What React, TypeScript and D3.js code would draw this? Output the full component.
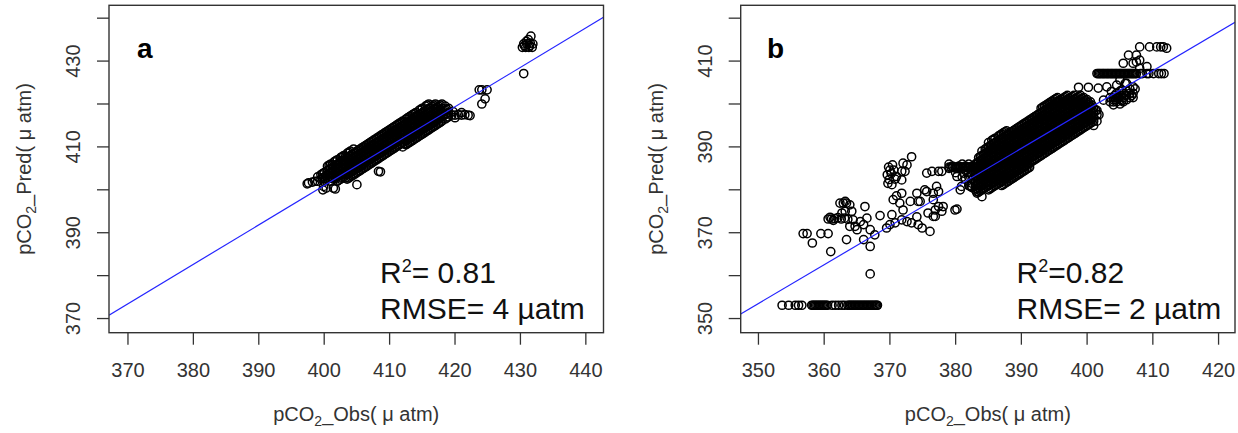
import React from "react";
import * as d3 from "d3";

// ---------- Panel a data (pCO2 obs, pred) ----------
// dense core: each row = [obs, pred, pred, ...]
const coreA: number[][] = [
  [399, 402, 403],
  [399.5, 402.5, 403.5],
  [400, 402, 403, 404],
  [400.5, 402.5, 403.5, 404.5, 405.5],
  [401, 402, 403, 404, 405, 406],
  [401.5, 402.5, 403.5, 404.5, 405.5, 406.5],
  [402, 402, 403, 404, 405, 406, 407],
  [402.5, 402.5, 403.5, 404.5, 405.5, 406.5, 407.5],
  [403, 403, 404, 405, 406, 407, 408],
  [403.5, 402.5, 403.5, 404.5, 405.5, 406.5, 407.5, 408.5],
  [404, 403, 404, 405, 406, 407, 408, 409],
  [404.5, 403.5, 404.5, 405.5, 406.5, 407.5, 408.5, 409.5],
  [405, 404, 405, 406, 407, 408, 409],
  [405.5, 404.5, 405.5, 406.5, 407.5, 408.5, 409.5],
  [406, 405, 406, 407, 408, 409, 410],
  [406.5, 405.5, 406.5, 407.5, 408.5, 409.5, 410.5],
  [407, 406, 407, 408, 409, 410, 411],
  [407.5, 406.5, 407.5, 408.5, 409.5, 410.5, 411.5],
  [408, 407, 408, 409, 410, 411, 412],
  [408.5, 407.5, 408.5, 409.5, 410.5, 411.5, 412.5],
  [409, 408, 409, 410, 411, 412, 413],
  [409.5, 408.5, 409.5, 410.5, 411.5, 412.5, 413.5],
  [410, 409, 410, 411, 412, 413, 414],
  [410.5, 409.5, 410.5, 411.5, 412.5, 413.5, 414.5],
  [411, 410, 411, 412, 413, 414, 415],
  [411.5, 410.5, 411.5, 412.5, 413.5, 414.5, 415.5],
  [412, 410, 411, 412, 413, 414, 415, 416],
  [412.5, 410.5, 411.5, 412.5, 413.5, 414.5, 415.5, 416.5],
  [413, 411, 412, 413, 414, 415, 416, 417],
  [413.5, 411.5, 412.5, 413.5, 414.5, 415.5, 416.5, 417.5],
  [414, 412, 413, 414, 415, 416, 417, 418],
  [414.5, 412.5, 413.5, 414.5, 415.5, 416.5, 417.5, 418.5],
  [415, 413, 414, 415, 416, 417, 418, 419],
  [415.5, 413.5, 414.5, 415.5, 416.5, 417.5, 418.5, 419.5],
  [416, 414, 415, 416, 417, 418, 419, 420],
  [416.5, 414.5, 415.5, 416.5, 417.5, 418.5, 419.5],
  [417, 415, 416, 417, 418, 419, 420],
  [417.5, 415.5, 416.5, 417.5, 418.5, 419.5],
  [418, 416, 417, 418, 419, 420],
  [418.5, 416.5, 417.5, 418.5, 419.5],
  [419, 417, 418, 419],
];
const coreA2: number[][] = [
  [400.25, 402.25, 403.25],
  [401.25, 402.75, 403.75, 404.75, 405.75],
  [402.25, 402.25, 403.25, 404.25, 405.25, 406.25],
  [403.25, 402.75, 403.75, 404.75, 405.75, 406.75, 407.75],
  [404.25, 403.25, 404.25, 405.25, 406.25, 407.25, 408.25],
  [405.25, 404.25, 405.25, 406.25, 407.25, 408.25, 409.25],
  [406.25, 405.25, 406.25, 407.25, 408.25, 409.25, 410.25],
  [407.25, 406.25, 407.25, 408.25, 409.25, 410.25, 411.25],
  [408.25, 407.25, 408.25, 409.25, 410.25, 411.25, 412.25],
  [409.25, 408.25, 409.25, 410.25, 411.25, 412.25, 413.25],
  [410.25, 409.25, 410.25, 411.25, 412.25, 413.25, 414.25],
  [411.25, 410.25, 411.25, 412.25, 413.25, 414.25, 415.25],
  [412.25, 410.75, 411.75, 412.75, 413.75, 414.75, 415.75],
  [413.25, 411.25, 412.25, 413.25, 414.25, 415.25, 416.25, 417.25],
  [414.25, 412.25, 413.25, 414.25, 415.25, 416.25, 417.25],
  [415.25, 413.25, 414.25, 415.25, 416.25, 417.25, 418.25],
  [416.25, 414.25, 415.25, 416.25, 417.25, 418.25],
  [417.25, 415.25, 416.25, 417.25, 418.25, 419.25],
];
const coreA3: number[][] = [
  [399.75, 402.75, 403.75],
  [400.75, 402.75, 403.75, 404.75, 405.75],
  [401.75, 402.75, 403.75, 404.75, 405.75, 406.75],
  [402.75, 402.75, 403.75, 404.75, 405.75, 406.75, 407.75],
  [403.75, 402.75, 403.75, 404.75, 405.75, 406.75, 407.75, 408.75],
  [404.75, 403.75, 404.75, 405.75, 406.75, 407.75, 408.75],
  [405.75, 404.75, 405.75, 406.75, 407.75, 408.75, 409.75],
  [406.75, 405.75, 406.75, 407.75, 408.75, 409.75, 410.75],
  [407.75, 406.75, 407.75, 408.75, 409.75, 410.75, 411.75],
  [408.75, 407.75, 408.75, 409.75, 410.75, 411.75, 412.75],
  [409.75, 408.75, 409.75, 410.75, 411.75, 412.75, 413.75],
  [410.75, 409.75, 410.75, 411.75, 412.75, 413.75, 414.75],
  [411.75, 410.75, 411.75, 412.75, 413.75, 414.75, 415.75],
  [412.75, 410.75, 411.75, 412.75, 413.75, 414.75, 415.75, 416.75],
  [413.75, 411.75, 412.75, 413.75, 414.75, 415.75, 416.75, 417.75],
  [414.75, 412.75, 413.75, 414.75, 415.75, 416.75, 417.75, 418.75],
  [415.75, 413.75, 414.75, 415.75, 416.75, 417.75, 418.75, 419.75],
  [416.75, 414.75, 415.75, 416.75, 417.75, 418.75, 419.75],
  [417.75, 415.75, 416.75, 417.75, 418.75, 419.75],
  [418.75, 416.75, 417.75, 418.75],
];

const scatterA: [number, number][] = [
  [397.4, 401.4], [397.6, 401.6], [398.2, 401.8], [398.6, 402.0], [399.8, 400.0],
  [399.9, 400.8], [400.3, 400.4], [401.4, 400.4], [401.7, 400.2], [405.0, 401.2],
  [408.3, 404.3], [408.6, 404.2],
  [419.5, 417.4], [420.0, 417.4], [420.5, 417.5], [421.0, 417.4], [421.5, 417.5],
  [422.0, 417.4], [422.3, 417.3], [420.0, 416.8], [421.0, 418.0], [419.7, 418.2],
  [423.7, 423.3], [424.1, 423.3], [424.9, 423.3], [424.6, 421.2], [424.1, 420.0],
  [430.3, 433.2], [430.8, 433.2], [431.3, 433.2], [431.8, 433.2], [430.5, 434.0],
  [431.0, 434.0], [431.5, 434.2], [431.2, 435.0], [431.6, 435.8], [430.9, 434.6],
  [431.9, 434.0], [430.6, 433.6], [431.4, 433.6], [430.5, 427.1],
];

// ---------- Panel b data ----------
const coreB: number[][] = [
  [379, 385, 386],
  [379.5, 385.5],
  [380, 384, 385],
  [380.5, 385.5],
  [381, 383, 385, 386],
  [381.5, 382.5, 384.5, 385.5],
  [382, 381, 383, 384, 385, 386],
  [382.5, 380.5, 381.5, 382.5, 383.5, 384.5, 385.5],
  [383, 380, 381, 382, 383, 384, 385, 386],
  [383.5, 379.5, 380.5, 381.5, 382.5, 383.5, 384.5, 385.5, 386.5, 387.5],
  [384, 380, 381, 382, 383, 384, 385, 386, 387, 388, 389],
  [384.5, 380.5, 381.5, 382.5, 383.5, 384.5, 385.5, 386.5, 387.5, 388.5, 389.5],
  [385, 380, 381, 382, 383, 384, 385, 386, 387, 388, 389, 390, 391],
  [385.5, 380.5, 381.5, 382.5, 383.5, 384.5, 385.5, 386.5, 387.5, 388.5, 389.5, 390.5, 391.5],
  [386, 381, 382, 383, 384, 385, 386, 387, 388, 389, 390, 391, 392],
  [386.5, 381.5, 382.5, 383.5, 384.5, 385.5, 386.5, 387.5, 388.5, 389.5, 390.5, 391.5, 392.5],
  [387, 381, 382, 383, 384, 385, 386, 387, 388, 389, 390, 391, 392, 393],
  [387.5, 381.5, 382.5, 383.5, 384.5, 385.5, 386.5, 387.5, 388.5, 389.5, 390.5, 391.5, 392.5, 393.5],
  [388, 382, 383, 384, 385, 386, 387, 388, 389, 390, 391, 392, 393],
  [388.5, 382.5, 383.5, 384.5, 385.5, 386.5, 387.5, 388.5, 389.5, 390.5, 391.5, 392.5, 393.5],
  [389, 383, 384, 385, 386, 387, 388, 389, 390, 391, 392, 393, 394],
  [389.5, 383.5, 384.5, 385.5, 386.5, 387.5, 388.5, 389.5, 390.5, 391.5, 392.5, 393.5, 394.5],
  [390, 384, 385, 386, 387, 388, 389, 390, 391, 392, 393, 394, 395],
  [390.5, 384.5, 385.5, 386.5, 387.5, 388.5, 389.5, 390.5, 391.5, 392.5, 393.5, 394.5, 395.5],
  [391, 385, 386, 387, 388, 389, 390, 391, 392, 393, 394, 395, 396],
  [391.5, 386.5, 387.5, 388.5, 389.5, 390.5, 391.5, 392.5, 393.5, 394.5, 395.5, 396.5],
  [392, 387, 388, 389, 390, 391, 392, 393, 394, 395, 396, 397],
  [392.5, 387.5, 388.5, 389.5, 390.5, 391.5, 392.5, 393.5, 394.5, 395.5, 396.5, 397.5],
  [393, 388, 389, 390, 391, 392, 393, 394, 395, 396, 397, 398, 399],
  [393.5, 388.5, 389.5, 390.5, 391.5, 392.5, 393.5, 394.5, 395.5, 396.5, 397.5, 398.5, 399.5],
  [394, 389, 390, 391, 392, 393, 394, 395, 396, 397, 398, 399, 400],
  [394.5, 389.5, 390.5, 391.5, 392.5, 393.5, 394.5, 395.5, 396.5, 397.5, 398.5, 399.5, 400.5],
  [395, 390, 391, 392, 393, 394, 395, 396, 397, 398, 399, 400, 401],
  [395.5, 390.5, 391.5, 392.5, 393.5, 394.5, 395.5, 396.5, 397.5, 398.5, 399.5, 400.5, 401.5],
  [396, 391, 392, 393, 394, 395, 396, 397, 398, 399, 400, 401],
  [396.5, 391.5, 392.5, 393.5, 394.5, 395.5, 396.5, 397.5, 398.5, 399.5, 400.5, 401.5],
  [397, 392, 393, 394, 395, 396, 397, 398, 399, 400, 401, 402],
  [397.5, 392.5, 393.5, 394.5, 395.5, 396.5, 397.5, 398.5, 399.5, 400.5, 401.5],
  [398, 393, 394, 395, 396, 397, 398, 399, 400, 401, 402],
  [398.5, 393.5, 394.5, 395.5, 396.5, 397.5, 398.5, 399.5, 400.5, 401.5],
  [399, 394, 395, 396, 397, 398, 399, 400, 401, 402],
  [399.5, 394.5, 395.5, 396.5, 397.5, 398.5, 399.5, 400.5, 401.5],
  [400, 395, 396, 397, 398, 399, 400, 401],
  [400.5, 395.5, 396.5, 397.5, 398.5, 399.5, 400.5],
  [401, 396, 397, 398, 399],
  [401.5, 397.5, 398.5],
];
const coreB2: number[][] = [
  [383.25, 379.25, 380.25, 381.25, 382.25, 383.25, 384.25, 385.25, 386.25],
  [384.25, 380.25, 381.25, 382.25, 383.25, 384.25, 385.25, 386.25, 387.25, 388.25],
  [385.25, 380.25, 381.25, 382.25, 383.25, 384.25, 385.25, 386.25, 387.25, 388.25, 389.25, 390.25],
  [386.25, 381.25, 382.25, 383.25, 384.25, 385.25, 386.25, 387.25, 388.25, 389.25, 390.25, 391.25],
  [387.25, 381.25, 382.25, 383.25, 384.25, 385.25, 386.25, 387.25, 388.25, 389.25, 390.25, 391.25, 392.25, 393.25],
  [388.25, 382.25, 383.25, 384.25, 385.25, 386.25, 387.25, 388.25, 389.25, 390.25, 391.25, 392.25, 393.25],
  [389.25, 383.25, 384.25, 385.25, 386.25, 387.25, 388.25, 389.25, 390.25, 391.25, 392.25, 393.25, 394.25],
  [390.25, 384.25, 385.25, 386.25, 387.25, 388.25, 389.25, 390.25, 391.25, 392.25, 393.25, 394.25, 395.25],
  [391.25, 385.25, 386.25, 387.25, 388.25, 389.25, 390.25, 391.25, 392.25, 393.25, 394.25, 395.25, 396.25],
  [392.25, 387.25, 388.25, 389.25, 390.25, 391.25, 392.25, 393.25, 394.25, 395.25, 396.25, 397.25],
  [393.25, 388.25, 389.25, 390.25, 391.25, 392.25, 393.25, 394.25, 395.25, 396.25, 397.25, 398.25, 399.25],
  [394.25, 389.25, 390.25, 391.25, 392.25, 393.25, 394.25, 395.25, 396.25, 397.25, 398.25, 399.25, 400.25],
  [395.25, 390.25, 391.25, 392.25, 393.25, 394.25, 395.25, 396.25, 397.25, 398.25, 399.25, 400.25, 401.25],
  [396.25, 391.25, 392.25, 393.25, 394.25, 395.25, 396.25, 397.25, 398.25, 399.25, 400.25, 401.25],
  [397.25, 392.25, 393.25, 394.25, 395.25, 396.25, 397.25, 398.25, 399.25, 400.25, 401.25],
  [398.25, 393.25, 394.25, 395.25, 396.25, 397.25, 398.25, 399.25, 400.25, 401.25],
  [399.25, 394.25, 395.25, 396.25, 397.25, 398.25, 399.25, 400.25, 401.25],
  [400.25, 395.25, 396.25, 397.25, 398.25, 399.25, 400.25],
];
const coreB3: number[][] = [
  [383.75, 379.75, 380.75, 381.75, 382.75, 383.75, 384.75, 385.75, 386.75, 387.75],
  [384.75, 380.75, 381.75, 382.75, 383.75, 384.75, 385.75, 386.75, 387.75, 388.75, 389.75],
  [385.75, 380.75, 381.75, 382.75, 383.75, 384.75, 385.75, 386.75, 387.75, 388.75, 389.75, 390.75, 391.75],
  [386.75, 381.75, 382.75, 383.75, 384.75, 385.75, 386.75, 387.75, 388.75, 389.75, 390.75, 391.75, 392.75],
  [387.75, 381.75, 382.75, 383.75, 384.75, 385.75, 386.75, 387.75, 388.75, 389.75, 390.75, 391.75, 392.75, 393.75],
  [388.75, 382.75, 383.75, 384.75, 385.75, 386.75, 387.75, 388.75, 389.75, 390.75, 391.75, 392.75, 393.75],
  [389.75, 383.75, 384.75, 385.75, 386.75, 387.75, 388.75, 389.75, 390.75, 391.75, 392.75, 393.75, 394.75],
  [390.75, 384.75, 385.75, 386.75, 387.75, 388.75, 389.75, 390.75, 391.75, 392.75, 393.75, 394.75, 395.75],
  [391.75, 386.75, 387.75, 388.75, 389.75, 390.75, 391.75, 392.75, 393.75, 394.75, 395.75, 396.75],
  [392.75, 387.75, 388.75, 389.75, 390.75, 391.75, 392.75, 393.75, 394.75, 395.75, 396.75, 397.75],
  [393.75, 388.75, 389.75, 390.75, 391.75, 392.75, 393.75, 394.75, 395.75, 396.75, 397.75, 398.75, 399.75],
  [394.75, 389.75, 390.75, 391.75, 392.75, 393.75, 394.75, 395.75, 396.75, 397.75, 398.75, 399.75, 400.75],
  [395.75, 390.75, 391.75, 392.75, 393.75, 394.75, 395.75, 396.75, 397.75, 398.75, 399.75, 400.75],
  [396.75, 391.75, 392.75, 393.75, 394.75, 395.75, 396.75, 397.75, 398.75, 399.75, 400.75, 401.75],
  [397.75, 392.75, 393.75, 394.75, 395.75, 396.75, 397.75, 398.75, 399.75, 400.75, 401.75],
  [398.75, 393.75, 394.75, 395.75, 396.75, 397.75, 398.75, 399.75, 400.75, 401.75],
  [399.75, 394.75, 395.75, 396.75, 397.75, 398.75, 399.75, 400.75],
  [400.75, 395.75, 396.75, 397.75, 398.75, 399.75],
];

// horizontal rows of points (constant predicted value)
const rowLowB_pred = 353.1;
const rowLowB_obs: number[] = [
  353.6, 354.6, 355.6, 356.1, 356.6, 358.1, 358.3, 358.5, 358.7, 358.9, 359.1, 359.3,
  359.5, 359.7, 359.9, 360.1, 360.3, 360.5, 361.2, 361.7, 362.2, 362.7, 363.1, 363.6,
  363.8, 364.0, 364.2, 364.4, 364.6, 364.8, 365.0, 365.2, 365.4, 365.6, 365.8, 366.0,
  366.2, 366.4, 366.6, 366.8, 367.0, 367.2, 367.4, 367.6, 367.8, 368.0, 368.1,
];
const rowMidB_pred = 385.3;
const rowMidB_obs: number[] = [
  379.0, 379.3, 379.6, 379.9, 380.2, 380.5, 380.8, 381.1, 381.4, 381.7, 382.0,
  382.3, 382.6, 382.9, 383.2, 383.5, 383.8, 384.1,
];
const rowTopB_pred = 407.1;
const rowTopB_obs: number[] = [
  401.5, 401.7, 401.9, 402.1, 402.3, 402.5, 402.7, 402.9, 403.1, 403.3, 403.5, 403.7,
  403.9, 404.1, 404.3, 404.5, 404.7, 404.9, 405.1, 405.3, 405.5, 405.7, 405.9, 406.1,
  406.3, 406.5, 406.7, 406.9, 407.1, 407.3, 407.5, 408.1, 408.4, 409.1, 409.4, 410.1,
  410.9, 411.3, 411.7,
];

const scatterB: [number, number][] = [
  [356.8, 369.8], [357.4, 369.8], [358.2, 367.6], [359.5, 369.8], [360.6, 369.8], [361.0, 365.6],
  [360.6, 373.2], [361.1, 373.2], [361.6, 373.3], [362.1, 373.5], [362.6, 373.2], [363.1, 373.4],
  [363.6, 373.1], [360.9, 373.6], [361.4, 372.9],
  [362.9, 376.9], [363.4, 376.9], [363.2, 375.0], [362.7, 374.6], [364.2, 375.0], [364.4, 373.0],
  [363.9, 371.5], [364.7, 371.5], [365.0, 370.7], [363.4, 368.4], [366.2, 376.1], [366.5, 373.4],
  [366.0, 371.9], [365.5, 372.6], [367.0, 370.7], [366.0, 368.4], [367.0, 366.8], [367.0, 360.4],
  [367.7, 369.5], [368.5, 374.0], [369.5, 371.1], [370.0, 371.9], [370.3, 374.2],
  [362.4, 376.9], [363.2, 377.3], [363.9, 376.5],
  [369.8, 385.3], [370.4, 385.8], [369.6, 383.5], [370.2, 383.8], [369.7, 381.5], [370.3, 381.2],
  [370.8, 382.5], [370.6, 384.6], [369.9, 382.4], [370.0, 384.6],
  [371.0, 383.1], [371.8, 382.3], [372.3, 384.3], [372.6, 385.8], [373.3, 387.7], [372.0, 386.2],
  [371.8, 384.3],
  [371.0, 378.6], [371.5, 376.9], [372.0, 375.3], [370.8, 372.3], [371.8, 373.0], [372.6, 372.6],
  [373.3, 372.3], [373.1, 377.3], [374.3, 377.3], [374.6, 377.3], [374.1, 373.7], [374.3, 371.9],
  [374.9, 371.1],
  [375.6, 383.9], [376.4, 384.3], [377.4, 384.3], [377.9, 384.3], [375.6, 379.6], [377.4, 379.6],
  [376.1, 370.3], [376.6, 377.7], [376.9, 375.3], [376.6, 373.8], [377.4, 376.1], [377.9, 375.0],
  [380.2, 375.5], [380.7, 380.0],
  [375.3, 380.0], [374.1, 379.2], [376.6, 379.2], [370.5, 377.7], [371.8, 379.2], [377.1, 380.8],
  [375.8, 374.6], [376.9, 373.8], [378.1, 376.1], [379.9, 375.3], [380.2, 383.1],
  [381.2, 383.9], [380.9, 380.8], [382.4, 380.8], [382.2, 380.8], [383.2, 379.6], [384.0, 378.4],
  [398.7, 403.9], [400.2, 403.9], [401.7, 403.7], [403.0, 404.0], [404.5, 404.4],
  [401.3, 398.5], [401.8, 397.5], [401.5, 396.0], [401.0, 395.0], [402.5, 400.9], [404.0, 400.5],
  [403.7, 402.9], [405.3, 403.3], [405.8, 404.8],
  [403.5, 401.5], [404.0, 401.5], [404.5, 401.5], [404.5, 402.5], [405.0, 401.0], [405.0, 402.0],
  [405.0, 403.0], [405.5, 401.5], [405.5, 402.5], [406.0, 401.0], [406.0, 402.0], [406.0, 403.0],
  [406.5, 401.5], [406.5, 402.5], [407.0, 401.5], [407.0, 402.5], [407.3, 403.5], [404.5, 400.5],
  [405.0, 400.0], [405.5, 400.5], [404.0, 401.0], [404.2, 402.0], [403.5, 400.5], [404.0, 399.8],
  [406.5, 403.5], [404.8, 401.8], [405.8, 402.0], [406.8, 402.0], [405.3, 400.8], [404.3, 401.0],
  [408.0, 413.3], [409.5, 413.3], [410.6, 413.3], [411.2, 413.3], [411.6, 413.3], [412.1, 413.0],
  [406.3, 411.4], [407.5, 411.4], [405.5, 409.5], [407.5, 409.8], [409.1, 408.7], [408.0, 408.3],
  [407.0, 409.5], [408.0, 410.2], [405.0, 405.6], [406.0, 404.8], [407.0, 404.0],
];

// ---------- axes, fits, annotations ----------
const ticksA = [370, 380, 390, 400, 410, 420, 430, 440];
const yLabelsA = [370, 390, 410, 430];
const ticksB = [350, 360, 370, 380, 390, 400, 410, 420];
const yLabelsB = [350, 370, 390, 410];
const domainXA: [number, number] = [367.1, 442.7];
const domainYA: [number, number] = [366.7, 443.0];
const domainXB: [number, number] = [347.3, 422.5];
const domainYB: [number, number] = [346.7, 423.0];
const fitA = { slope: 0.918, intercept: 33.8 };
const fitB = { slope: 0.904, intercept: 37.1 };
const statsA = { r2: "= 0.81", rmse: "RMSE= 4 µatm" };
const statsB = { r2: "=0.82", rmse: "RMSE= 2 µatm" };

const FONT = "'Liberation Sans', Arial, Helvetica, sans-serif";

function expand(core: number[][]): [number, number][] {
  const out: [number, number][] = [];
  core.forEach((c) => c.slice(1).forEach((p) => out.push([c[0], p])));
  return out;
}
function row(pred: number, obs: number[]): [number, number][] {
  return obs.map((o) => [o, pred] as [number, number]);
}

type PanelProps = {
  id: string;
  left: number;
  right: number;
  top: number;
  bottom: number;
  domX: [number, number];
  domY: [number, number];
  ticks: number[];
  yLabels: number[];
  points: [number, number][];
  fit: { slope: number; intercept: number };
  letter: string;
  letterX: number;
  r2: string;
  rmse: string;
  statX: number;
};

function Panel(p: PanelProps) {
  const x = d3.scaleLinear().domain(p.domX).range([p.left, p.right]);
  const y = d3.scaleLinear().domain(p.domY).range([p.bottom, p.top]);
  const [x0, x1] = p.domX;
  const line = d3
    .line<number>()
    .x((v) => x(v))
    .y((v) => y(p.fit.slope * v + p.fit.intercept))([x0, x1]) as string;
  const cx = (p.left + p.right) / 2;
  const cy = (p.top + p.bottom) / 2;
  const tickLen = 12;
  const axisCol = "#333";
  return (
    <g>
      <defs>
        <clipPath id={"clip" + p.id}>
          <rect x={p.left} y={p.top} width={p.right - p.left} height={p.bottom - p.top} />
        </clipPath>
      </defs>
      <g clipPath={`url(#clip${p.id})`}>
        {p.points.map((d, i) => (
          <circle key={i} cx={x(d[0])} cy={y(d[1])} r={4.1} fill="none" stroke="#000" strokeWidth={1.5} />
        ))}
        <path d={line} stroke="#2424ff" strokeWidth={1.2} fill="none" />
      </g>
      <rect x={p.left} y={p.top} width={p.right - p.left} height={p.bottom - p.top} fill="none" stroke={axisCol} strokeWidth={1.4} />
      {p.ticks.map((t) => (
        <g key={"x" + t}>
          <line x1={x(t)} x2={x(t)} y1={p.bottom} y2={p.bottom + tickLen} stroke={axisCol} strokeWidth={1.3} />
          <text x={x(t)} y={377} textAnchor="middle" fontFamily={FONT} fontSize={20} fill={axisCol}>
            {t}
          </text>
        </g>
      ))}
      {p.ticks.map((t) => (
        <line key={"y" + t} x1={p.left - tickLen} x2={p.left} y1={y(t)} y2={y(t)} stroke={axisCol} strokeWidth={1.3} />
      ))}
      {p.yLabels.map((t) => (
        <text key={"yl" + t} transform={`translate(${p.left - 29},${y(t)}) rotate(-90)`} textAnchor="middle" fontFamily={FONT} fontSize={20} fill={axisCol}>
          {t}
        </text>
      ))}
      <text x={cx} y={421} textAnchor="middle" fontFamily={FONT} fontSize={20} fill={axisCol}>
        pCO<tspan dy={5} fontSize={14}>2</tspan>
        <tspan dy={-5}>_Obs( μ atm)</tspan>
      </text>
      <text transform={`translate(${p.left - 78},${cy}) rotate(-90)`} textAnchor="middle" fontFamily={FONT} fontSize={20} fill={axisCol}>
        pCO<tspan dy={5} fontSize={14}>2</tspan>
        <tspan dy={-5}>_Pred( μ atm)</tspan>
      </text>
      <text x={p.letterX} y={58} fontFamily={FONT} fontSize={28} fontWeight="bold" fill="#000">
        {p.letter}
      </text>
      <text x={p.statX} y={283} fontFamily={FONT} fontSize={30} fill="#111">
        R<tspan dy={-11} fontSize={18}>2</tspan>
        <tspan dy={11}>{p.r2}</tspan>
      </text>
      <text x={p.statX} y={319} fontFamily={FONT} fontSize={30} fill="#111">
        {p.rmse}
      </text>
    </g>
  );
}

export default function App() {
  const pointsA = [...expand(coreA), ...expand(coreA2), ...expand(coreA3), ...scatterA];
  const pointsB = [
    ...expand(coreB),
    ...expand(coreB2),
    ...expand(coreB3),
    ...row(rowLowB_pred, rowLowB_obs),
    ...row(rowMidB_pred, rowMidB_obs),
    ...row(rowTopB_pred, rowTopB_obs),
    ...scatterB,
  ];
  return (
    <svg width={1238} height={433} style={{ position: "absolute", left: 0, top: 0, background: "#fff" }}>
      <rect x={0} y={0} width={1238} height={433} fill="#fff" />
      <Panel id="a" left={109} right={603.5} top={5.3} bottom={332.7} domX={domainXA} domY={domainYA}
        ticks={ticksA} yLabels={yLabelsA} points={pointsA} fit={fitA} letter="a" letterX={137}
        r2={statsA.r2} rmse={statsA.rmse} statX={380} />
      <Panel id="b" left={740.7} right={1235} top={5.3} bottom={332.7} domX={domainXB} domY={domainYB}
        ticks={ticksB} yLabels={yLabelsB} points={pointsB} fit={fitB} letter="b" letterX={767}
        r2={statsB.r2} rmse={statsB.rmse} statX={1016.5} />
    </svg>
  );
}
